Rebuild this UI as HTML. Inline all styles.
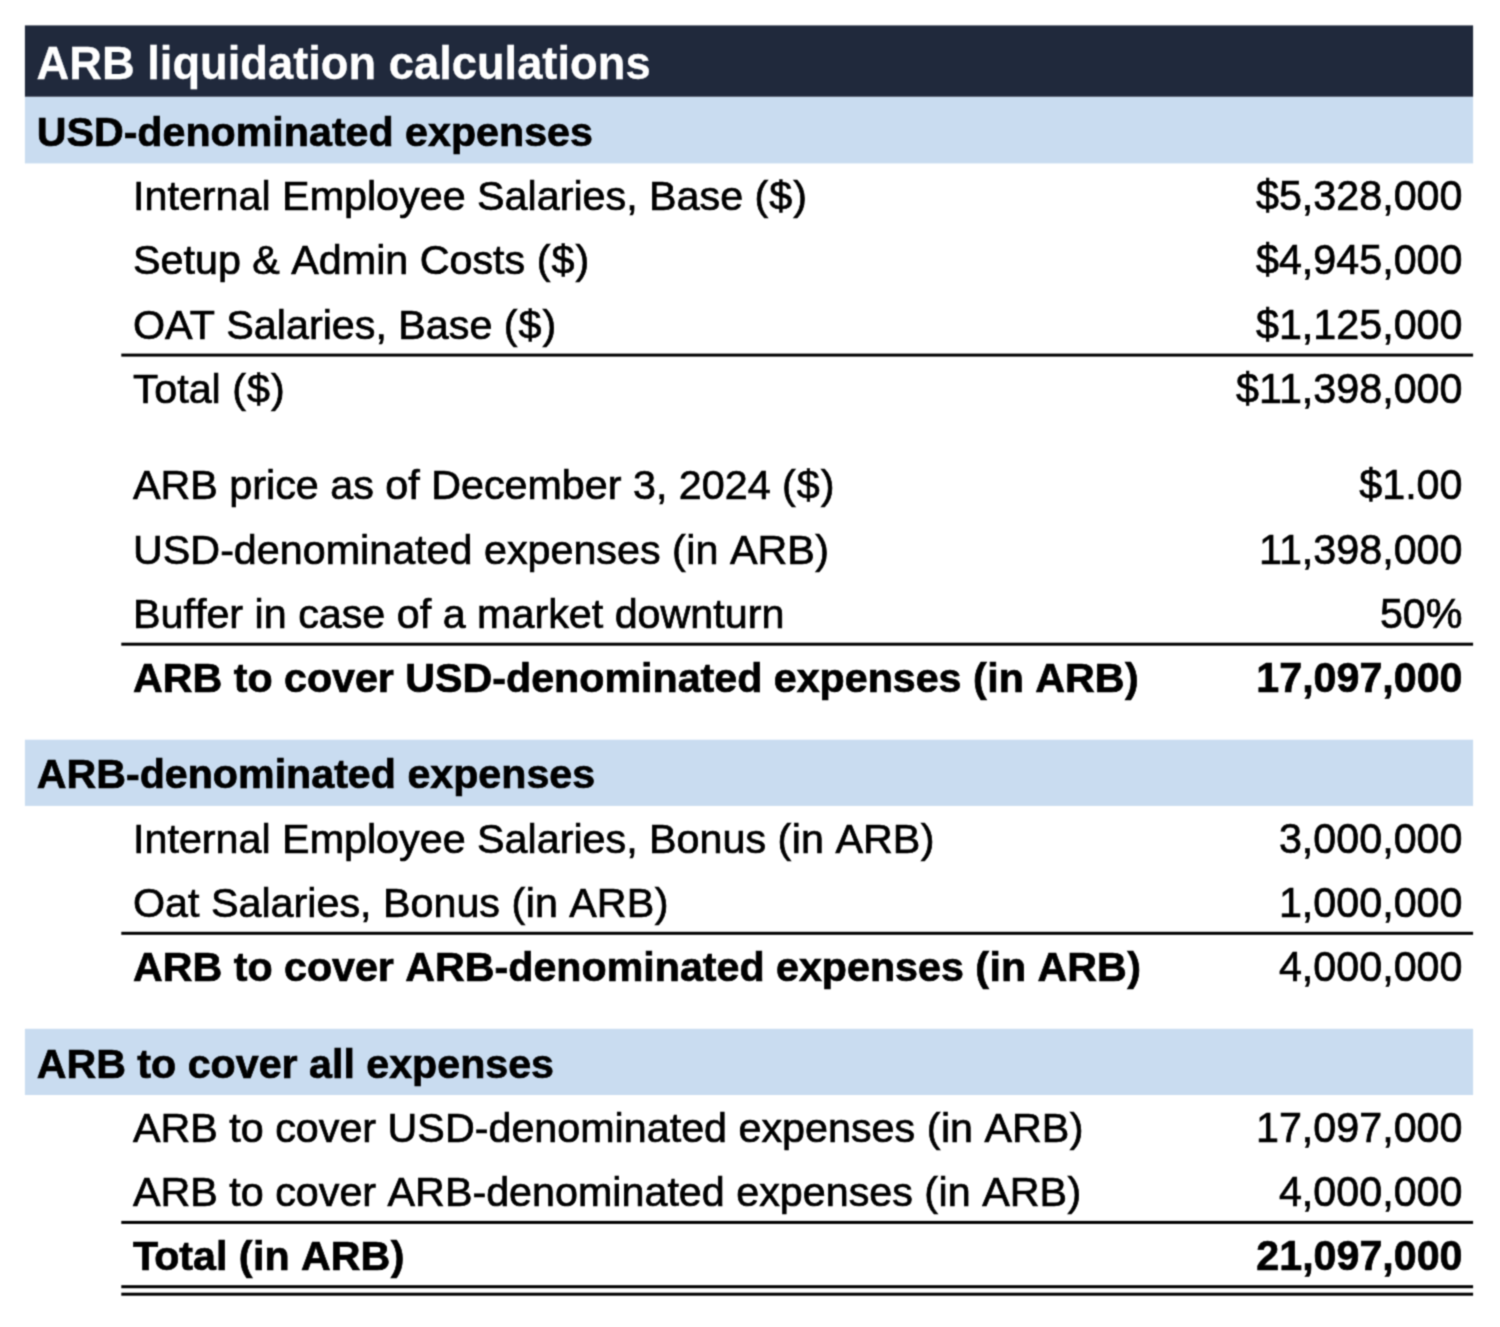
<!DOCTYPE html>
<html lang="en"><head><meta charset="utf-8"><title>ARB liquidation calculations</title>
<style>
html,body{margin:0;padding:0;background:#fff;}
body{width:1500px;height:1327px;position:relative;overflow:hidden;font-family:"Liberation Sans",Arial,Helvetica,sans-serif;color:#000;font-kerning:none;}
#bg{position:absolute;left:0;top:0;}
#page{position:absolute;left:0;top:0;width:1500px;height:1327px;filter:url(#soft);}
.t{position:absolute;white-space:nowrap;line-height:60px;height:60px;font-size:41.27px;-webkit-text-stroke:0.7px #000;}
.l{left:133px;}
.v{right:37.5px;text-align:right;transform:scaleY(1.05);transform-origin:100% 44.28px;}
.b{font-weight:bold;font-size:41.2px;}
.h{left:36.7px;}
#tt{left:36.5px;color:#fff;font-weight:bold;font-size:45.3px;-webkit-text-stroke:0.3px #fff;}
</style></head><body>
<svg width="0" height="0" style="position:absolute" aria-hidden="true"><filter id="soft" x="0" y="0" width="100%" height="100%" color-interpolation-filters="sRGB"><feConvolveMatrix order="3" kernelMatrix="0.0400 0.1200 0.0400 0.1200 0.3600 0.1200 0.0400 0.1200 0.0400" divisor="1" edgeMode="duplicate" preserveAlpha="false"/></filter></svg>
<div id="page">
<svg id="bg" width="1500" height="1327" viewBox="0 0 1500 1327">
<rect x="24.9" y="96.7" width="1448.2" height="66.7" fill="#c9dcf0"/>
<rect x="24.9" y="739.7" width="1448.2" height="66.2" fill="#c9dcf0"/>
<rect x="24.9" y="1028.8" width="1448.2" height="66.2" fill="#c9dcf0"/>
<rect x="24.9" y="25.4" width="1448.2" height="71.3" fill="#20293c"/>
<rect x="121.3" y="353.60" width="1351.8" height="3.0" fill="#000"/>
<rect x="121.3" y="642.70" width="1351.8" height="3.0" fill="#000"/>
<rect x="121.3" y="931.80" width="1351.8" height="3.0" fill="#000"/>
<rect x="121.3" y="1220.90" width="1351.8" height="3.0" fill="#000"/>
<rect x="121.3" y="1285.20" width="1351.8" height="3.0" fill="#000"/>
<rect x="121.3" y="1292.70" width="1351.8" height="3.0" fill="#000"/>
</svg>
<div class="t" id="tt" style="top:33.90px">ARB liquidation calculations</div>
<div class="t h b" style="top:101.70px">USD-denominated expenses</div>
<div class="t h b" style="top:743.70px">ARB-denominated expenses</div>
<div class="t h b" style="top:1033.70px">ARB to cover all expenses</div>
<div class="t l" style="top:165.70px">Internal Employee Salaries, Base <span style="letter-spacing:1.0px">(</span><span style="letter-spacing:1.0px">$</span>)</div>
<div class="t v" style="top:165.70px">$5,328,000</div>
<div class="t l" style="top:229.70px">Setup &amp; Admin Costs <span style="letter-spacing:1.0px">(</span><span style="letter-spacing:1.0px">$</span>)</div>
<div class="t v" style="top:229.70px">$4,945,000</div>
<div class="t l" style="top:294.70px">O<span style="letter-spacing:-3.0px">A</span>T Salaries, Base <span style="letter-spacing:1.0px">(</span><span style="letter-spacing:1.0px">$</span>)</div>
<div class="t v" style="top:294.70px">$1,125,000</div>
<div class="t l" style="top:358.70px"><span style="letter-spacing:-4.0px">T</span>otal <span style="letter-spacing:1.0px">(</span><span style="letter-spacing:1.0px">$</span>)</div>
<div class="t v" style="top:358.70px">$<span style="letter-spacing:-3.0px">1</span>1,398,000</div>
<div class="t l" style="top:454.70px">ARB price as of December 3, 2024 <span style="letter-spacing:1.0px">(</span><span style="letter-spacing:1.0px">$</span>)</div>
<div class="t v" style="top:454.70px">$1.00</div>
<div class="t l" style="top:519.70px">USD-denominated expenses <span style="letter-spacing:0.5px">(</span>in AR<span style="letter-spacing:0.5px">B</span>)</div>
<div class="t v" style="top:519.70px"><span style="letter-spacing:-3.0px">1</span>1,398,000</div>
<div class="t l" style="top:583.70px">Buffer in case of a market downturn</div>
<div class="t v" style="top:583.70px">50%</div>
<div class="t l b" style="top:647.70px">ARB to cover USD-denominated expenses <span style="letter-spacing:0.5px">(</span>in AR<span style="letter-spacing:0.5px">B</span>)</div>
<div class="t v b" style="top:647.70px">17,097,000</div>
<div class="t l" style="top:808.70px">Internal Employee Salaries, Bonus <span style="letter-spacing:0.5px">(</span>in AR<span style="letter-spacing:0.5px">B</span>)</div>
<div class="t v" style="top:808.70px">3,000,000</div>
<div class="t l" style="top:872.70px">Oat Salaries, Bonus <span style="letter-spacing:0.5px">(</span>in AR<span style="letter-spacing:0.5px">B</span>)</div>
<div class="t v" style="top:872.70px">1,000,000</div>
<div class="t l b" style="top:936.70px">ARB to cover ARB-denominated expenses <span style="letter-spacing:0.5px">(</span>in AR<span style="letter-spacing:0.5px">B</span>)</div>
<div class="t v" style="top:936.70px">4,000,000</div>
<div class="t l" style="top:1097.70px">ARB to cover USD-denominated expenses <span style="letter-spacing:0.5px">(</span>in AR<span style="letter-spacing:0.5px">B</span>)</div>
<div class="t v" style="top:1097.70px">17,097,000</div>
<div class="t l" style="top:1161.70px">ARB to cover ARB-denominated expenses <span style="letter-spacing:0.5px">(</span>in AR<span style="letter-spacing:0.5px">B</span>)</div>
<div class="t v" style="top:1161.70px">4,000,000</div>
<div class="t l b" style="top:1225.70px"><span style="letter-spacing:-4.0px">T</span>otal <span style="letter-spacing:0.5px">(</span>in AR<span style="letter-spacing:0.5px">B</span>)</div>
<div class="t v b" style="top:1225.70px">21,097,000</div>
</div>
</body></html>
